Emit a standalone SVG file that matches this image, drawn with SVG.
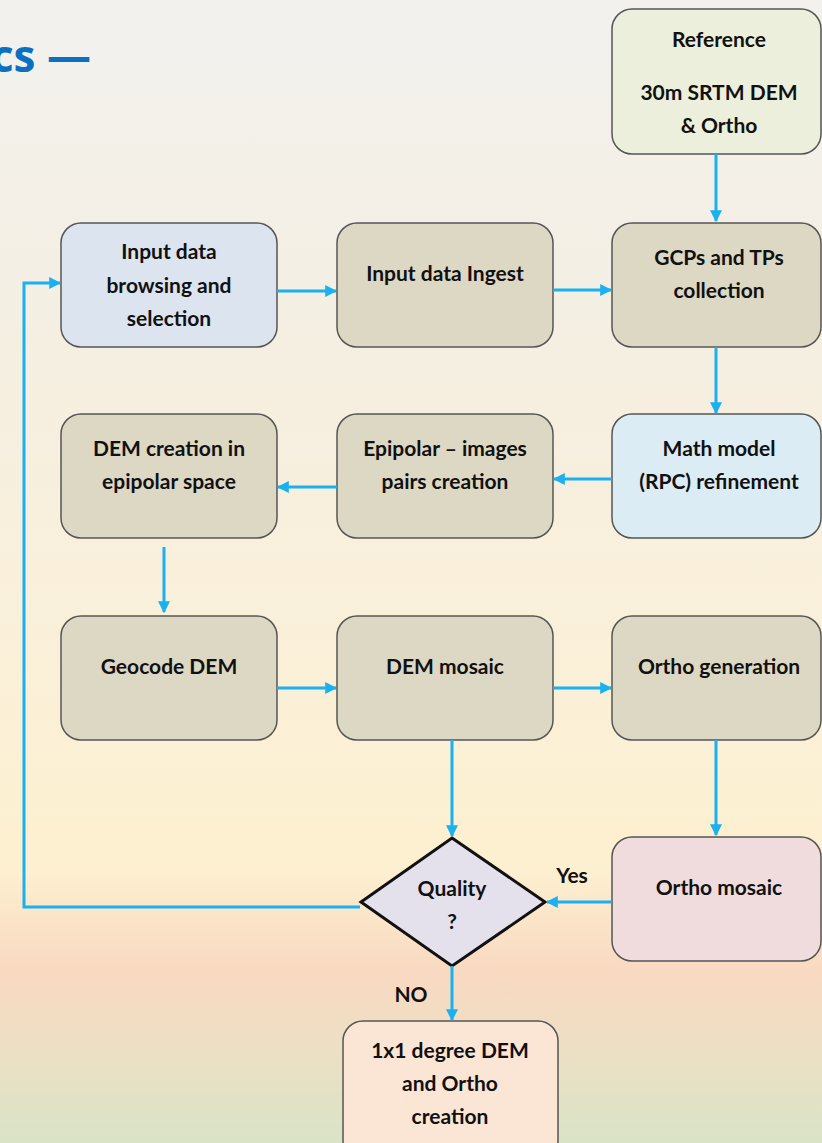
<svg xmlns="http://www.w3.org/2000/svg" width="822" height="1143" viewBox="0 0 822 1143">
  <defs>
    <linearGradient id="bg" x1="0" y1="0" x2="0" y2="1">
      <stop offset="0" stop-color="#f2f1ee"/>
      <stop offset="0.3" stop-color="#f5efe2"/>
      <stop offset="0.55" stop-color="#faf0da"/>
      <stop offset="0.76" stop-color="#fdf0d0"/>
      <stop offset="0.85" stop-color="#f9d9c1"/>
      <stop offset="0.92" stop-color="#ece0c4"/>
      <stop offset="1" stop-color="#dae3c7"/>
    </linearGradient>
    <marker id="arr" viewBox="0 0 10 10" refX="9" refY="5" markerWidth="4" markerHeight="4" orient="auto" markerUnits="strokeWidth">
      <path d="M0,0 L10,5 L0,10 Z" fill="#1bb0ef"/>
    </marker>
  </defs>
  <style>
    .box { stroke: #555; stroke-width: 1.5; }
    .tan { fill: #ddd8c4; }
    .lbl { font-family: Lato, "Liberation Sans", sans-serif; font-weight: bold; font-size: 21px; fill: #111; text-anchor: middle; }
    .edge { fill: none; stroke: #1bb0ef; stroke-width: 3; }
    .title { font-family: "Open Sans", "Liberation Sans", sans-serif; font-weight: bold; font-size: 44px; fill: #0b70c1; }
  </style>

  <rect width="822" height="1143" fill="url(#bg)"/>

  <text class="title" x="-9" y="72">cs —</text>

  <g id="reference">
    <rect class="box" x="612" y="9" width="209" height="145" rx="20" fill="#ebefdc"/>
    <text class="lbl" x="719" y="47">Reference</text>
    <text class="lbl" x="719" y="100">30m SRTM DEM</text>
    <text class="lbl" x="719" y="133">&amp; Ortho</text>
  </g>

  <g id="browse">
    <rect class="box" x="61" y="223" width="216" height="124" rx="20" fill="#dce4f0"/>
    <text class="lbl" x="169" y="259">Input data</text>
    <text class="lbl" x="169" y="293">browsing and</text>
    <text class="lbl" x="169" y="326">selection</text>
  </g>

  <g id="ingest">
    <rect class="box tan" x="337" y="223" width="216" height="124" rx="20"/>
    <text class="lbl" x="445" y="281">Input data Ingest</text>
  </g>

  <g id="gcps">
    <rect class="box tan" x="612" y="223" width="209" height="124" rx="20"/>
    <text class="lbl" x="719" y="265">GCPs and TPs</text>
    <text class="lbl" x="719" y="298">collection</text>
  </g>

  <g id="math-model">
    <rect class="box" x="612" y="414" width="209" height="124" rx="20" fill="#dcecf4"/>
    <text class="lbl" x="719" y="456">Math model</text>
    <text class="lbl" x="719" y="489">(RPC) refinement</text>
  </g>

  <g id="epipolar">
    <rect class="box tan" x="337" y="414" width="216" height="124" rx="20"/>
    <text class="lbl" x="445" y="456">Epipolar – images</text>
    <text class="lbl" x="445" y="489">pairs creation</text>
  </g>

  <g id="dem-creation">
    <rect class="box tan" x="61" y="414" width="216" height="124" rx="20"/>
    <text class="lbl" x="169" y="456">DEM creation in</text>
    <text class="lbl" x="169" y="489">epipolar space</text>
  </g>

  <g id="geocode">
    <rect class="box tan" x="61" y="616" width="216" height="124" rx="20"/>
    <text class="lbl" x="169" y="674">Geocode DEM</text>
  </g>

  <g id="dem-mosaic">
    <rect class="box tan" x="337" y="616" width="216" height="124" rx="20"/>
    <text class="lbl" x="445" y="674">DEM mosaic</text>
  </g>

  <g id="ortho-generation">
    <rect class="box tan" x="612" y="616" width="209" height="124" rx="20"/>
    <text class="lbl" x="719" y="674">Ortho generation</text>
  </g>

  <g id="ortho-mosaic">
    <rect class="box" x="612" y="837" width="209" height="124" rx="20" fill="#f0dcdc"/>
    <text class="lbl" x="719" y="895">Ortho mosaic</text>
  </g>

  <g id="quality">
    <path d="M452,838 L545,902 L452,966 L361,902 Z" fill="#e4e0ec" stroke="#111" stroke-width="3" stroke-linejoin="miter"/>
    <text class="lbl" x="452" y="896">Quality</text>
    <text class="lbl" x="452" y="929">?</text>
  </g>

  <g id="final-product">
    <rect class="box" x="343" y="1021" width="215" height="140" rx="20" fill="#fbe6d6"/>
    <text class="lbl" x="450" y="1058">1x1 degree DEM</text>
    <text class="lbl" x="450" y="1091">and Ortho</text>
    <text class="lbl" x="450" y="1124">creation</text>
  </g>

  <g id="connectors">
    <path class="edge" marker-end="url(#arr)" d="M716,154 V221"/>
    <path class="edge" marker-end="url(#arr)" d="M277,291 H336"/>
    <path class="edge" marker-end="url(#arr)" d="M553,290 H611"/>
    <path class="edge" marker-end="url(#arr)" d="M716,347 V413"/>
    <path class="edge" marker-end="url(#arr)" d="M612,479 H554"/>
    <path class="edge" marker-end="url(#arr)" d="M337,487 H278"/>
    <path class="edge" marker-end="url(#arr)" d="M164,547 V612"/>
    <path class="edge" marker-end="url(#arr)" d="M277,688 H336"/>
    <path class="edge" marker-end="url(#arr)" d="M553,688 H611"/>
    <path class="edge" marker-end="url(#arr)" d="M452,740 V836"/>
    <path class="edge" marker-end="url(#arr)" d="M716,740 V835"/>
    <path class="edge" marker-end="url(#arr)" d="M612,902 H547"/>
    <path class="edge" marker-end="url(#arr)" d="M360,907 H24 V283 H60"/>
    <path class="edge" marker-end="url(#arr)" d="M452,966 V1020"/>
    <text class="lbl" x="572" y="883">Yes</text>
    <text class="lbl" x="411" y="1002">NO</text>
  </g>
</svg>
